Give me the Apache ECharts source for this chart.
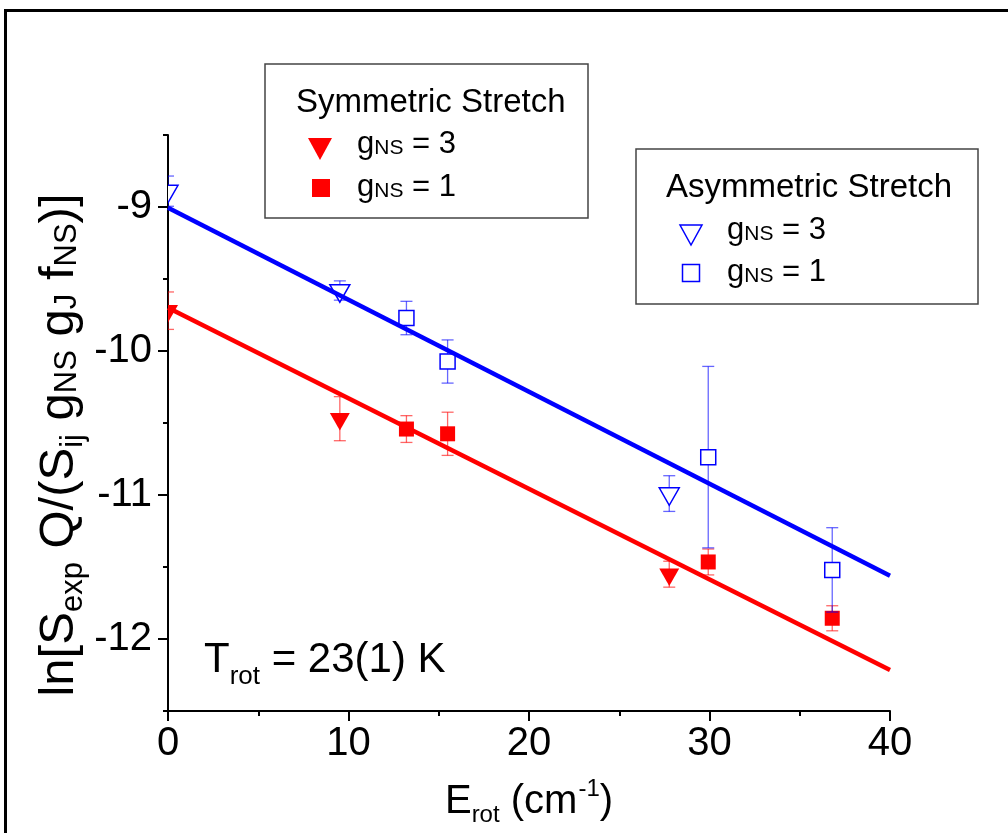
<!DOCTYPE html>
<html><head><meta charset="utf-8">
<script src="https://cdn.jsdelivr.net/npm/echarts@6/dist/echarts.min.js"></script>
<style>html,body{margin:0;padding:0;background:#fff}#c{width:1008px;height:833px}</style>
</head><body><div id="c"></div>
<script>
const FONT = '"Liberation Sans", Arial, Helvetica, sans-serif';

// ---- data ----
const symG3X = [0, 9.52, 27.77];
const symG3Y = [-9.72, -10.47, -11.55];
const symG3Err = [0.13, 0.153, 0.09];

const symG1X = [13.21, 15.49, 29.93, 36.8];
const symG1Y = [-10.542, -10.575, -11.465, -11.856];
const symG1Err = [0.093, 0.15, 0.09, 0.087];

const asymG3X = [0, 9.52, 27.77];
const asymG3Y = [-8.89, -9.58, -10.99];
const asymG3Err = [0.105, 0.067, 0.124];

const asymG1X = [13.21, 15.49, 29.93, 36.8];
const asymG1Y = [-9.771, -10.073, -10.737, -11.52];
const asymG1Err = [0.116, 0.15, 0.63, 0.293];

const symFitX = [0, 40];
const symFitY = [-9.70, -12.215];
const asymFitX = [0, 40];
const asymFitY = [-9.005, -11.56];

const xTickValues = [0, 10, 20, 30, 40];
const yTickValues = [-12, -11, -10, -9];

const RED = '#ff0000', BLUE = '#0000ff';

function errSeries(name, xs, ys, errs, shape, filled, color, barColor) {
  const data = xs.map((x, i) => [x, ys[i], ys[i] - errs[i], ys[i] + errs[i]]);
  return {
    type: 'custom', name: name, data: data, clip: true, z: 3,
    xAxisIndex: 0, yAxisIndex: 0,
    encode: { x: 0, y: [1, 2, 3] },
    renderItem: function (params, api) {
      const xv = api.value(0);
      const p = api.coord([xv, api.value(1)]);
      const lo = api.coord([xv, api.value(2)]);
      const hi = api.coord([xv, api.value(3)]);
      const cap = 6;
      const bs = { stroke: barColor, lineWidth: 1.3 };
      const ch = [
        { type: 'line', shape: { x1: p[0], y1: lo[1], x2: p[0], y2: hi[1] }, style: bs },
        { type: 'line', shape: { x1: p[0] - cap, y1: lo[1], x2: p[0] + cap, y2: lo[1] }, style: bs },
        { type: 'line', shape: { x1: p[0] - cap, y1: hi[1], x2: p[0] + cap, y2: hi[1] }, style: bs }
      ];
      const ms = filled ? { fill: color } : { fill: '#ffffff', stroke: color, lineWidth: 1.5 };
      if (shape === 'tri') {
        ch.push({ type: 'polygon', shape: { points: [[p[0] - 10, p[1] - 5.8], [p[0] + 10, p[1] - 5.8], [p[0], p[1] + 11.7]] }, style: ms });
      } else {
        ch.push({ type: 'rect', shape: { x: p[0] - 7.5, y: p[1] - 7.5, width: 15, height: 15 }, style: ms });
      }
      return { type: 'group', children: ch };
    }
  };
}

function fitSeries(xs, ys, color) {
  return {
    type: 'line', xAxisIndex: 0, yAxisIndex: 0, z: 5,
    data: xs.map((x, i) => [x, ys[i]]),
    symbol: 'none', silent: true, animation: false,
    lineStyle: { color: color, width: 4.5 }
  };
}

const axisBlack = { color: '#000', width: 2 };

const option = {
  animation: false,
  backgroundColor: '#ffffff',
  textStyle: { fontFamily: FONT },
  grid: [
    { left: 168, top: 135, width: 722, height: 576, containLabel: false },
    { left: 168, top: 207, width: 722, height: 432, containLabel: false }
  ],
  xAxis: [
    {
      gridIndex: 0, type: 'value', min: xTickValues[0], max: xTickValues[xTickValues.length - 1], interval: 10,
      axisLine: { show: true, onZero: false, lineStyle: axisBlack },
      axisTick: { show: true, inside: false, length: 10, lineStyle: axisBlack },
      minorTick: { show: true, splitNumber: 2, length: 5, lineStyle: axisBlack },
      splitLine: { show: false },
      axisLabel: { show: true, color: '#000', fontSize: 40, fontFamily: FONT, margin: 13 },
      name: '{m|E}{s|rot}{m| (cm}{p|-1}{m|)}',
      nameLocation: 'middle', nameGap: 66,
      nameTextStyle: {
        color: '#000', fontFamily: FONT,
        rich: {
          m: { fontSize: 40, fontFamily: FONT, lineHeight: 50, verticalAlign: 'middle', color: '#000' },
          s: { fontSize: 24, fontFamily: FONT, lineHeight: 24, verticalAlign: 'bottom', color: '#000' },
          p: { fontSize: 24, fontFamily: FONT, lineHeight: 24, verticalAlign: 'top', padding: [0, 0, 0, 1], color: '#000' }
        }
      }
    },
    { gridIndex: 1, type: 'value', min: 0, max: 40, show: false }
  ],
  yAxis: [
    {
      gridIndex: 0, type: 'value', min: -12.5, max: -8.5, interval: 0.5,
      axisLine: { show: true, onZero: false, lineStyle: axisBlack },
      axisTick: { show: true, inside: false, length: 5, lineStyle: axisBlack },
      axisLabel: { show: false },
      splitLine: { show: false }
    },
    {
      gridIndex: 1, type: 'value', min: yTickValues[0], max: yTickValues[yTickValues.length - 1], interval: 1,
      axisLine: { show: false, onZero: false },
      axisTick: { show: true, inside: false, length: 10, lineStyle: axisBlack },
      axisLabel: { show: true, color: '#000', fontSize: 40, fontFamily: FONT, margin: 16 },
      splitLine: { show: false }
    }
  ],
  series: [
    errSeries('Sym gNS=3', symG3X, symG3Y, symG3Err, 'tri', true, RED, 'rgba(255,0,0,0.6)'),
    errSeries('Sym gNS=1', symG1X, symG1Y, symG1Err, 'sq', true, RED, 'rgba(255,0,0,0.6)'),
    errSeries('Asym gNS=3', asymG3X, asymG3Y, asymG3Err, 'tri', false, BLUE, 'rgba(0,0,255,0.6)'),
    errSeries('Asym gNS=1', asymG1X, asymG1Y, asymG1Err, 'sq', false, BLUE, 'rgba(0,0,255,0.6)'),
    fitSeries(symFitX, symFitY, RED),
    fitSeries(asymFitX, asymFitY, BLUE)
  ],
  graphic: []
};

// ---- decorations: frame, legends, titles ----
const legRich = {
  m: { fontSize: 31, fontFamily: FONT, lineHeight: 29, verticalAlign: 'middle', fill: '#000' },
  c: { fontSize: 21, fontFamily: FONT, lineHeight: 20, verticalAlign: 'bottom', fill: '#000' }
};
const g = option.graphic;
g.push({ type: 'rect', silent: true, shape: { x: 5.5, y: 10.5, width: 1100, height: 1000 }, style: { fill: 'none', stroke: '#000', lineWidth: 3 } });
// Symmetric legend box
g.push({ type: 'rect', silent: true, z: 10, shape: { x: 265, y: 64, width: 323, height: 154 }, style: { fill: '#fff', stroke: '#444', lineWidth: 1.5 } });
g.push({ type: 'text', silent: true, z: 11, x: 296, y: 103, style: { text: 'Symmetric Stretch', font: '33px ' + FONT, fill: '#000', align: 'left', verticalAlign: 'middle' } });
g.push({ type: 'polygon', silent: true, z: 11, shape: { points: [[308, 138], [332, 138], [320, 160]] }, style: { fill: RED } });
g.push({ type: 'text', silent: true, z: 11, x: 357, y: 144, style: { text: '{m|g}{c|NS}{m| = 3}', rich: legRich, align: 'left', verticalAlign: 'middle' } });
g.push({ type: 'rect', silent: true, z: 11, shape: { x: 312, y: 179, width: 18, height: 18 }, style: { fill: RED } });
g.push({ type: 'text', silent: true, z: 11, x: 357, y: 187.4, style: { text: '{m|g}{c|NS}{m| = 1}', rich: legRich, align: 'left', verticalAlign: 'middle' } });
// Asymmetric legend box
g.push({ type: 'rect', silent: true, z: 10, shape: { x: 636, y: 149, width: 342, height: 155 }, style: { fill: '#fff', stroke: '#444', lineWidth: 1.5 } });
g.push({ type: 'text', silent: true, z: 11, x: 666, y: 188, style: { text: 'Asymmetric Stretch', font: '33px ' + FONT, fill: '#000', align: 'left', verticalAlign: 'middle' } });
g.push({ type: 'polygon', silent: true, z: 11, shape: { points: [[680, 225], [702, 225], [691, 245]] }, style: { fill: 'none', stroke: BLUE, lineWidth: 1.5 } });
g.push({ type: 'text', silent: true, z: 11, x: 727, y: 230, style: { text: '{m|g}{c|NS}{m| = 3}', rich: legRich, align: 'left', verticalAlign: 'middle' } });
g.push({ type: 'rect', silent: true, z: 11, shape: { x: 682.5, y: 264.5, width: 17, height: 17 }, style: { fill: 'none', stroke: BLUE, lineWidth: 1.5 } });
g.push({ type: 'text', silent: true, z: 11, x: 727, y: 272.4, style: { text: '{m|g}{c|NS}{m| = 1}', rich: legRich, align: 'left', verticalAlign: 'middle' } });
// T_rot annotation
g.push({ type: 'text', silent: true, z: 11, x: 204, y: 630, style: {
  text: '{m|T}{s|rot}{m| = 23(1) K}', align: 'left', verticalAlign: 'top',
  rich: {
    m: { fontSize: 42, fontFamily: FONT, lineHeight: 60, verticalAlign: 'middle', fill: '#000' },
    s: { fontSize: 26, fontFamily: FONT, lineHeight: 26, verticalAlign: 'bottom', fill: '#000' }
  } } });
// Y axis title (rotated)
g.push({ type: 'text', silent: true, z: 11, x: 59, y: 445, rotation: Math.PI / 2, style: {
  text: '{m|ln[S}{s|exp}{m| Q/(S}{s|ij}{m| g}{c|NS}{m| g}{c|J}{m| f}{c|NS}{m|)]}', align: 'center', verticalAlign: 'middle',
  rich: {
    m: { fontSize: 49, fontFamily: FONT, lineHeight: 60, verticalAlign: 'middle', fill: '#000' },
    s: { fontSize: 31, fontFamily: FONT, lineHeight: 31, verticalAlign: 'bottom', fill: '#000' },
    c: { fontSize: 31, fontFamily: FONT, lineHeight: 31, verticalAlign: 'bottom', padding: [0, 0, 6, 0], fill: '#000' }
  } } });

const chart = echarts.init(document.getElementById('c'), null, { renderer: 'canvas' });
chart.setOption(option);
</script>
</body></html>
